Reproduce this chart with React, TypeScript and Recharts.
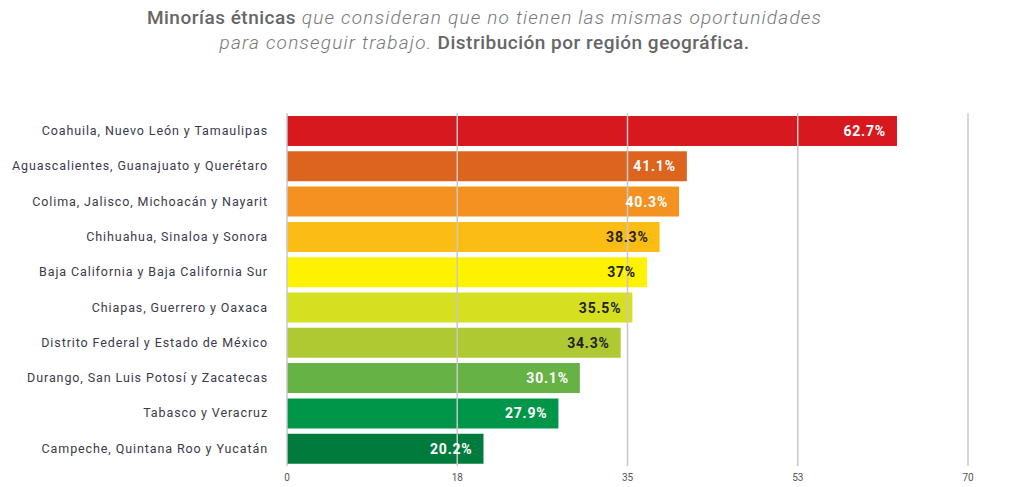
import React from "react";
import {
  BarChart,
  Bar,
  XAxis,
  YAxis,
  Cell,
  LabelList,
  ReferenceLine,
} from "recharts";

const regions = [
  "Coahuila, Nuevo León y Tamaulipas",
  "Aguascalientes, Guanajuato y Querétaro",
  "Colima, Jalisco, Michoacán y Nayarit",
  "Chihuahua, Sinaloa y Sonora",
  "Baja California y Baja California Sur",
  "Chiapas, Guerrero y Oaxaca",
  "Distrito Federal y Estado de México",
  "Durango, San Luis Potosí y Zacatecas",
  "Tabasco y Veracruz",
  "Campeche, Quintana Roo y Yucatán",
];

const percents = [62.7, 41.1, 40.3, 38.3, 37, 35.5, 34.3, 30.1, 27.9, 20.2];

const barColors = [
  "#d7191f",
  "#dc641f",
  "#f39221",
  "#fbbd13",
  "#fff200",
  "#d7df21",
  "#afc933",
  "#66b245",
  "#00964a",
  "#007b3e",
];

const labelColors = [
  "#ffffff",
  "#ffffff",
  "#ffffff",
  "#231f20",
  "#231f20",
  "#231f20",
  "#231f20",
  "#ffffff",
  "#ffffff",
  "#ffffff",
];

const xTicks = [0, 17.5, 35, 52.5, 70];

const data = regions.map((region, i) => ({ region, value: percents[i] }));

const FONT = "Roboto, 'DejaVu Sans', sans-serif";

function renderValue(props: any) {
  const { x, y, width, height, value, index } = props;
  return (
    <text
      x={Number(x) + Number(width) - 11}
      y={Number(y) + Number(height) / 2}
      dy="0.36em"
      textAnchor="end"
      fontFamily={FONT}
      fontSize={14}
      fontWeight={700}
      letterSpacing={0.8}
      fill={labelColors[index]}
    >
      {`${value}%`}
    </text>
  );
}

const boldPart = { fontWeight: 500, letterSpacing: 0.5, color: "#666666" };
const italicPart = {
  fontStyle: "italic",
  fontWeight: 300,
  letterSpacing: 1.2,
  color: "#777777",
};

export default function App() {
  return (
    <div
      style={{
        position: "absolute",
        left: 0,
        top: 0,
        width: 1013,
        height: 487,
        background: "#ffffff",
        overflow: "hidden",
        fontFamily: FONT,
      }}
    >
      {/* Title */}
      <div
        style={{
          position: "absolute",
          left: 0,
          top: 5,
          width: 969,
          textAlign: "center",
          fontSize: 19,
          lineHeight: "25px",
          whiteSpace: "nowrap",
        }}
      >
        <div>
          <span style={boldPart}>Minorías étnicas</span>
          <span style={italicPart}>
            {" "}que consideran que no tienen las mismas oportunidades
          </span>
        </div>
        <div>
          <span style={italicPart}>para conseguir trabajo.</span>
          <span style={boldPart}> Distribución por región geográfica.</span>
        </div>
      </div>

      {/* Chart */}
      <div style={{ position: "absolute", left: 0, top: 0 }}>
        <BarChart
          width={1013}
          height={487}
          data={data}
          layout="vertical"
          margin={{ top: 113, right: 45, bottom: 1, left: 0 }}
          barSize={30}
        >
          <XAxis
            type="number"
            domain={[0, 70]}
            ticks={xTicks}
            tickFormatter={(v) => String(Math.round(Number(v)))}
            axisLine={false}
            tickLine={false}
            height={20}
            tick={{ fontSize: 10, fill: "#555555", fontFamily: FONT }}
          />
          <YAxis
            type="category"
            dataKey="region"
            width={287}
            axisLine={false}
            tickLine={false}
            tickSize={0}
            tickMargin={19}
            interval={0}
            tick={{ fontSize: 12.5, fill: "#3b3a4a", fontFamily: FONT, letterSpacing: 0.9 }}
          />
          <Bar dataKey="value" isAnimationActive={false}>
            {data.map((d, i) => (
              <Cell key={d.region} fill={barColors[i]} />
            ))}
            <LabelList dataKey="value" content={renderValue} />
          </Bar>
          {xTicks.map((t) => (
            <ReferenceLine
              key={t}
              x={t}
              stroke="#c8c8c8"
              strokeWidth={1.5}
              ifOverflow="extendDomain"
            />
          ))}
        </BarChart>
      </div>
    </div>
  );
}
